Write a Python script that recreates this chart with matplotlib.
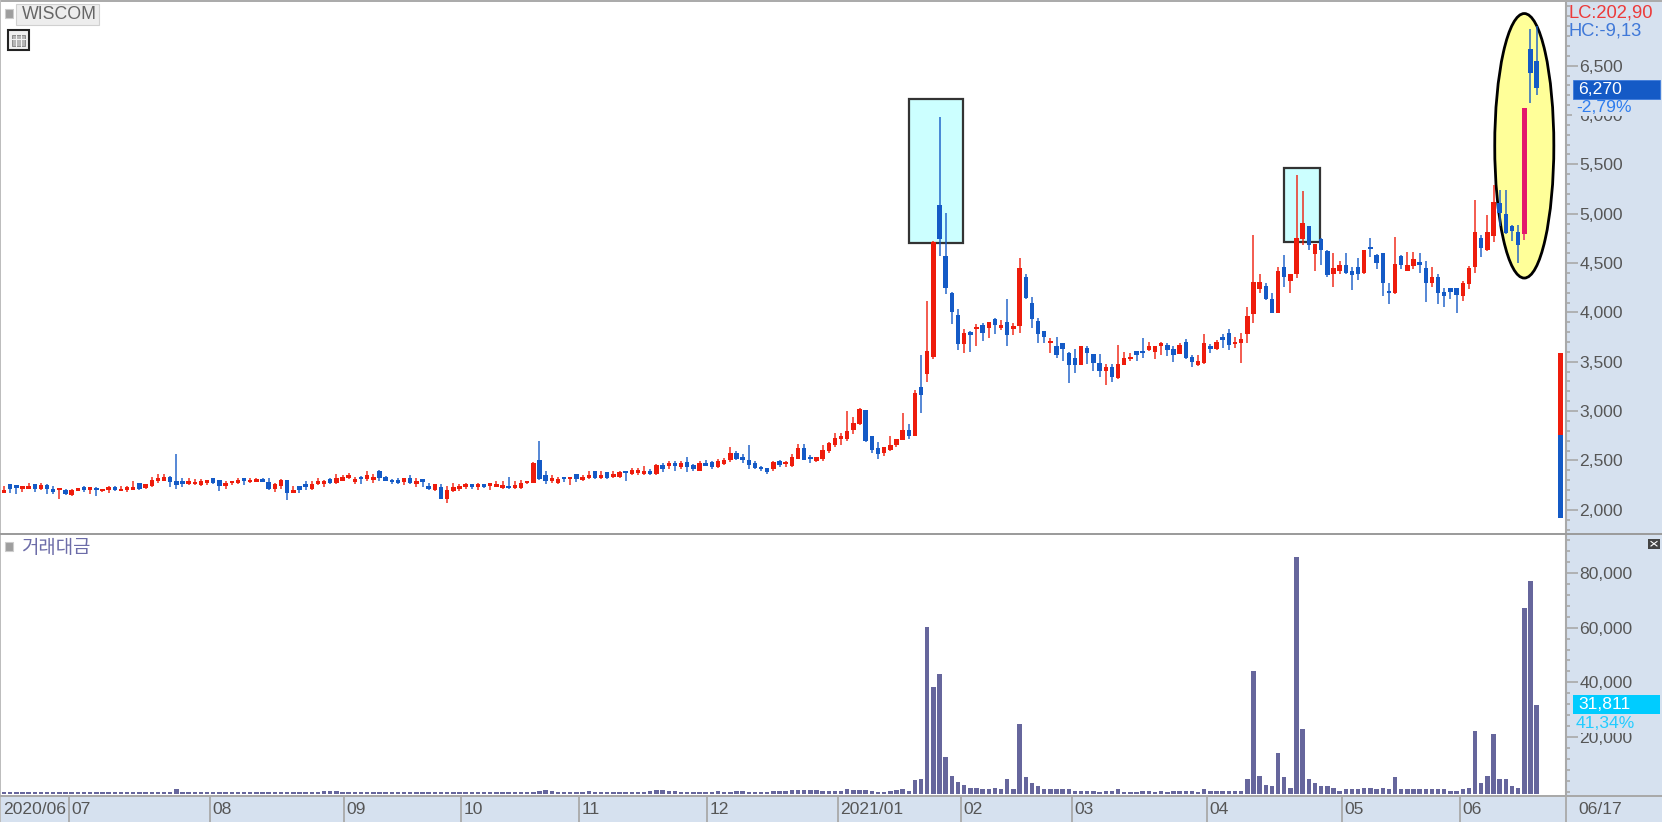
import matplotlib
matplotlib.use("Agg")
import matplotlib.pyplot as plt
from matplotlib.patches import Rectangle, Ellipse
from matplotlib.ticker import FuncFormatter, MultipleLocator

opens = [2174,2259,2235,2215,2215,2259,2215,2249,2198,2198,
 2198,2154,2191,2218,2205,2225,2188,2198,2228,2188,
 2205,2201,2272,2218,2242,2289,2293,2336,2289,2276,
 2262,2259,2249,2272,2320,2303,2242,2269,2269,2320,
 2279,2282,2316,2286,2215,2242,2303,2174,2242,2249,
 2215,2266,2259,2309,2276,2296,2326,2282,2336,2309,
 2303,2397,2336,2293,2303,2282,2323,2266,2303,2242,
 2201,2228,2114,2188,2208,2228,2255,2232,2255,2245,
 2235,2218,2242,2218,2218,2269,2276,2505,2350,2292,
 2272,2329,2312,2363,2302,2319,2393,2319,2380,2336,
 2336,2393,2366,2376,2363,2397,2363,2457,2444,2478,
 2437,2488,2457,2397,2478,2488,2437,2461,2505,2579,
 2535,2501,2478,2430,2424,2417,2491,2461,2444,2518,
 2623,2528,2491,2518,2596,2653,2721,2714,2809,2866,
 3008,2748,2623,2579,2606,2653,2707,2805,2748,3248,
 3373,3552,5085,4572,4193,3977,3677,3802,3829,3873,
 3842,3930,3842,3903,3829,3862,4359,4099,3913,3808,
 3690,3660,3687,3592,3535,3467,3643,3575,3491,3406,
 3444,3332,3467,3528,3609,3609,3616,3599,3660,3673,
 3626,3582,3704,3551,3464,3491,3660,3633,3754,3795,
 3676,3693,3784,3980,4240,4267,4132,3997,4463,4315,
 4392,4740,4875,4588,4747,4619,4389,4423,4477,4419,
 4463,4403,4662,4585,4602,4210,4193,4571,4423,4470,
 4510,4450,4301,4359,4207,4247,4247,4163,4284,4463,
 4752,4632,4773,5104,5000,4875,4817,4790,6664,6546]
highs = [2242,2262,2249,2232,2275,2262,2275,2266,2242,2215,
 2208,2208,2218,2242,2232,2228,2215,2242,2242,2242,
 2242,2293,2275,2266,2336,2367,2367,2340,2562,2323,
 2323,2309,2309,2286,2323,2306,2289,2293,2320,2323,
 2323,2320,2320,2320,2275,2309,2306,2242,2245,2293,
 2289,2323,2303,2323,2367,2350,2370,2336,2340,2394,
 2367,2400,2340,2309,2323,2323,2353,2323,2306,2275,
 2266,2266,2242,2275,2262,2275,2259,2275,2259,2259,
 2293,2293,2336,2289,2303,2296,2482,2698,2394,2349,
 2336,2332,2322,2366,2349,2397,2397,2397,2383,2397,
 2397,2397,2427,2427,2444,2410,2460,2478,2491,2495,
 2495,2539,2464,2491,2505,2491,2518,2525,2640,2596,
 2562,2657,2491,2444,2427,2491,2505,2491,2566,2670,
 2670,2552,2538,2653,2687,2775,2782,3005,2944,3035,
 3015,2751,2687,2640,2748,2718,2977,2866,3214,3568,
 4116,4725,5983,5010,4203,4031,3829,3815,3879,3896,
 3906,3947,3920,4133,3889,4555,4392,4159,3947,3811,
 3737,3747,3690,3595,3626,3663,3660,3578,3582,3474,
 3474,3673,3599,3585,3612,3737,3704,3663,3704,3694,
 3660,3694,3727,3568,3568,3785,3676,3720,3785,3828,
 3754,3795,4058,4787,4392,4294,4193,4463,4585,4392,
 5395,5227,4878,4693,4757,4629,4605,4521,4598,4463,
 4554,4635,4754,4588,4605,4294,4767,4585,4615,4615,
 4602,4521,4463,4386,4250,4250,4250,4315,4470,5135,
 4780,4983,5287,5239,5239,4888,4888,6073,6867,6900]
lows = [2174,2174,2157,2184,2212,2184,2201,2157,2157,2114,
 2154,2140,2188,2184,2157,2140,2184,2174,2188,2188,
 2184,2198,2201,2215,2228,2275,2289,2235,2208,2235,
 2249,2249,2245,2249,2266,2188,2215,2249,2266,2249,
 2276,2279,2279,2201,2181,2215,2097,2174,2174,2201,
 2201,2249,2235,2266,2266,2293,2309,2259,2259,2293,
 2275,2293,2289,2262,2262,2249,2266,2235,2235,2201,
 2188,2107,2066,2181,2188,2215,2215,2201,2218,2201,
 2232,2215,2215,2215,2215,2266,2272,2306,2266,2275,
 2262,2282,2248,2282,2292,2309,2309,2309,2309,2322,
 2322,2292,2349,2353,2349,2353,2349,2383,2410,2397,
 2410,2383,2397,2393,2440,2410,2427,2457,2488,2505,
 2478,2417,2410,2390,2366,2397,2434,2430,2430,2511,
 2505,2478,2488,2491,2572,2640,2660,2701,2765,2856,
 2687,2579,2518,2545,2596,2640,2704,2714,2745,2984,
 3295,3530,4572,4183,3879,3619,3585,3602,3660,3710,
 3737,3785,3822,3660,3768,3795,4133,3842,3693,3687,
 3585,3541,3508,3281,3390,3464,3481,3403,3346,3268,
 3298,3329,3464,3511,3508,3541,3612,3525,3569,3558,
 3498,3579,3525,3450,3461,3481,3585,3616,3643,3616,
 3643,3491,3693,3889,4193,4126,3997,3994,4254,4193,
 4345,4679,4632,4419,4484,4362,4254,4389,4389,4224,
 4328,4389,4558,4436,4166,4088,4190,4436,4420,4436,
 4396,4105,4257,4088,4058,4132,3997,4115,4240,4402,
 4561,4618,4713,4875,4797,4726,4503,4733,6124,6200]
closes = [2201,2215,2225,2228,2228,2215,2249,2215,2184,2215,
 2157,2198,2215,2201,2218,2198,2211,2228,2201,2215,
 2215,2215,2215,2262,2303,2323,2336,2279,2249,2262,
 2276,2282,2293,2286,2269,2242,2276,2286,2303,2296,
 2293,2316,2282,2215,2262,2303,2174,2201,2198,2232,
 2262,2282,2296,2276,2323,2336,2343,2296,2309,2353,
 2333,2326,2293,2279,2276,2320,2269,2293,2286,2215,
 2259,2114,2201,2228,2242,2262,2235,2245,2235,2255,
 2262,2249,2218,2249,2276,2293,2478,2309,2293,2322,
 2309,2309,2319,2309,2336,2353,2326,2353,2322,2349,
 2383,2370,2400,2403,2397,2363,2457,2417,2478,2441,
 2478,2430,2410,2478,2444,2437,2491,2505,2579,2518,
 2501,2454,2420,2410,2383,2488,2451,2478,2538,2623,
 2508,2511,2535,2606,2674,2728,2731,2802,2883,3025,
 2701,2606,2566,2636,2660,2714,2809,2748,3187,3163,
 3609,4710,4740,4251,4008,3677,3795,3768,3856,3795,
 3903,3876,3869,3768,3859,4450,4146,3937,3785,3754,
 3707,3572,3633,3467,3467,3660,3585,3484,3403,3444,
 3342,3474,3538,3552,3572,3585,3656,3660,3680,3616,
 3572,3673,3538,3497,3508,3687,3633,3704,3720,3673,
 3704,3734,3964,4311,4311,4132,3997,4419,4362,4389,
 4754,4909,4679,4690,4632,4382,4450,4480,4403,4375,
 4389,4632,4639,4497,4301,4196,4494,4484,4480,4538,
 4484,4301,4355,4196,4163,4207,4180,4301,4453,4814,
 4648,4814,5118,5003,4800,4820,4679,6073,6428,6270]
turnover = [60,80,40,40,60,80,60,60,40,80,
 60,60,40,40,40,60,40,60,40,40,
 40,80,80,60,100,120,120,150,1100,80,
 60,60,60,40,60,60,60,60,40,40,
 60,40,40,40,80,60,80,100,80,60,
 60,60,300,500,250,80,80,60,60,80,
 80,60,60,60,80,80,60,60,60,80,
 80,60,60,80,80,60,60,80,80,80,
 60,60,80,80,60,80,150,500,900,250,
 80,80,80,80,80,250,100,80,80,80,
 80,80,80,100,120,350,700,600,450,250,
 120,100,100,120,120,150,250,120,150,450,
 250,120,120,120,150,250,250,450,700,800,
 600,700,900,450,350,250,450,1100,600,800,
 700,450,100,120,450,800,1010,530,4300,4900,
 60100,38200,43200,12600,6000,3800,2700,1600,1600,1000,
 1000,1600,1000,4900,1000,24700,5400,3200,2100,1000,
 1000,1000,1000,1000,530,530,530,530,60,530,
 530,1000,60,60,60,530,530,60,530,60,
 530,530,530,530,60,1000,530,530,530,530,
 530,530,4900,44300,6000,2700,2100,14100,5400,1600,
 85900,22900,4900,3200,2100,2100,1600,530,1000,1000,
 1000,1600,1600,1000,1600,1000,5400,1000,1000,1000,
 1000,1000,1000,1000,1000,530,530,1000,1600,22400,
 3200,6000,21300,4900,4900,2100,1600,67300,77100,31811]
month_labels = ["07","08","09","10","11","12","2021/01","02","03","04","05","06"]
month_pos = [10.5,33.5,55.2,74.2,93.4,114.2,135.5,155.5,173.5,195.5,217.4,236.5]
price_ticks = [2000,2500,3000,3500,4000,4500,5000,5500,6000,6500]
volume_ticks = [20000,40000,60000,80000]
highlighted = 247   # the candle drawn in pink

RED, BLUE, PINK = "#EE1C0C", "#145AC6", "#E3196C"
PANEL_BG, AXIS, TEXT = "#D6E1EF", "#A9A9A9", "#565656"
VOL = "#66669C"
FONT = ["Liberation Sans", "DejaVu Sans"]
W, H = 1662, 822
plt.rcParams["font.family"] = FONT

fig = plt.figure(figsize=(W / 100, H / 100), dpi=100, facecolor=PANEL_BG)
L, R, MID, BOT, TOP = 1, 1566, 534, 796, 2
def axes_px(x0, x1, y0, y1):
    return fig.add_axes([x0 / W, 1 - y1 / H, (x1 - x0) / W, (y1 - y0) / H])
ax = axes_px(L, R, TOP, MID)
axv = axes_px(L, R, MID, BOT)
SP = 6.155
xlim = ((L - 4) / SP, (R - 4) / SP)
for a in (ax, axv):
    a.set_xlim(*xlim)
    a.set_xticks([])
    a.yaxis.tick_right()
    for s in ("top", "left", "bottom"):
        a.spines[s].set_visible(False)
    a.spines["right"].set_color(AXIS)
    a.spines["right"].set_linewidth(1.5)
    a.tick_params(axis="y", which="major", length=8.5, width=1.2, color=AXIS,
                  labelcolor=TEXT, labelsize=12.6, pad=1)
    a.tick_params(axis="y", which="minor", length=3, width=1.2, color=AXIS)
    a.yaxis.set_major_formatter(FuncFormatter(lambda v, _: f"{int(v):,}"))

PX = 0.0987
ax.set_ylim(2000 + (509.8 - MID) / PX, 2000 + (509.8 - TOP) / PX)
ax.set_yticks(price_ticks)
ax.yaxis.set_minor_locator(MultipleLocator(100))

# annotation shapes (behind the candles)
ax.add_patch(Rectangle((147.0, 4703), 8.8, 1458, fc="#CCFFFF", ec="#333333", lw=1.6, zorder=1))
ax.add_patch(Rectangle((208.0, 4717), 5.8, 745, fc="#CCFFFF", ec="#333333", lw=1.6, zorder=1))
ax.add_patch(Ellipse((247.0, 5688), 9.6, 2680, fc="#FFFF99", ec="black", lw=2.0, zorder=1))

# candles
for i, (o, h, l, c) in enumerate(zip(opens, highs, lows, closes)):
    col = RED if c >= o else BLUE
    if i == highlighted:
        col = PINK
    ax.vlines(i, l, h, color=col, lw=1.4, alpha=0.72, zorder=3)
    lo, hi = min(o, c), max(o, c)
    ax.bar(i, max(hi - lo, 25), bottom=lo, width=0.72, color=col, lw=0, zorder=4)

# price-distribution bar at the right edge
ax.bar(252.9, 3585 - 2762, bottom=2762, width=0.8, color=RED, lw=0, zorder=4)
ax.bar(252.9, 2762 - 1914, bottom=1914, width=0.8, color=BLUE, lw=0, zorder=4)

# traded value
VPX = 0.00274
axv.set_ylim((792 - BOT) / VPX, (792 - MID) / VPX)
axv.set_yticks(volume_ticks)
axv.yaxis.set_minor_locator(MultipleLocator(4000))
base = -700
axv.bar(range(len(turnover)), [v - base for v in turnover], bottom=base,
        width=0.72, color=VOL, lw=0)

# overlay in pixels: chrome and labels
ov = fig.add_axes([0, 0, 1, 1], zorder=10)
ov.set_xlim(0, W); ov.set_ylim(H, 0); ov.axis("off")
ov.patch.set_alpha(0)
def rect(x0, y0, x1, y1, fc, ec="none", lw=0, z=2):
    ov.add_patch(Rectangle((x0, y0), x1 - x0, y1 - y0, fc=fc, ec=ec, lw=lw, zorder=z))
def text(x, y, s, color=TEXT, size=12.6, **kw):
    ov.text(x, y, s, color=color, fontsize=size, va="center", ha=kw.pop("ha", "left"), zorder=5, **kw)

# borders
rect(0, 0, W, 1.6, "#ABABAB")
rect(0, 0, 1.3, H, "#BDBDBD")
rect(0, MID - 0.8, W, MID + 0.8, "#9C9C9C")
rect(0, BOT - 0.8, W, BOT + 0.8, AXIS)

# date strip
to_px = lambda i: 4 + SP * i
text(3, 809, "2020/06")
for lab, pos in zip(month_labels, month_pos):
    xp = to_px(pos)
    ov.plot([xp, xp], [BOT, H], color=AXIS, lw=1.3, zorder=3)
    text(xp + 2.5, 809, lab)
ov.plot([R, R], [BOT, H], color=AXIS, lw=1.3, zorder=3)
text(1578, 809, "06/17")

# top-left labels
rect(4.7, 9.5, 12.5, 18.3, "#9E9E9E", ec="#CCCCCC", lw=0.8)
rect(16, 4, 99, 25, "#EDEDED", ec="#D0D0D0", lw=0.8)
text(22, 14.5, "WISCOM", color="#666666", size=12.8)
rect(8, 30, 28.5, 50.5, "#F0F0F0", ec="#222222", lw=1.5)
rect(12, 35, 25, 46, "#B5B5B5", ec="#808080", lw=0.6)
for gx in (16.3, 20.6):
    ov.plot([gx, gx], [35, 46], color="#F5F5F5", lw=0.7, zorder=3)
ov.plot([12, 25], [39, 39], color="#F5F5F5", lw=0.7, zorder=3)

rect(4.7, 541.7, 12.5, 550.5, "#9E9E9E", ec="#CCCCCC", lw=0.8)
text(21, 547, "거래대금", color="#6C6CA8", size=13.6, family=["Noto Sans CJK KR", "DejaVu Sans"])

# right-hand value tags
text(1568, 12.5, "LC:202,90", color="#EC3A3A", size=13.2)
text(1568, 30.5, "HC:-9,13", color="#3F78D8", size=13.2)
rect(1572, 99, 1662, 116.5, PANEL_BG)
rect(1573, 80, 1660, 99, "#145AC6", ec="#3C7ADB", lw=0.6)
text(1578, 89.5, "6,270", color="white")
text(1576, 108, "-2,79%", color="#2F7DEE")
rect(1572, 714, 1662, 732.5, PANEL_BG)
rect(1573, 695, 1660, 714, "#00CCFF")
text(1578, 704.5, "31,811", color="white")
text(1576, 723, "41,34%", color="#22CCFF")

# close button of the lower panel
rect(1648, 539, 1660, 548.5, "#444444")
ov.plot([1651, 1657], [541.5, 546], color="white", lw=0.8, zorder=3)
ov.plot([1651, 1657], [546, 541.5], color="white", lw=0.8, zorder=3)

fig.savefig("out.png", dpi=100)
